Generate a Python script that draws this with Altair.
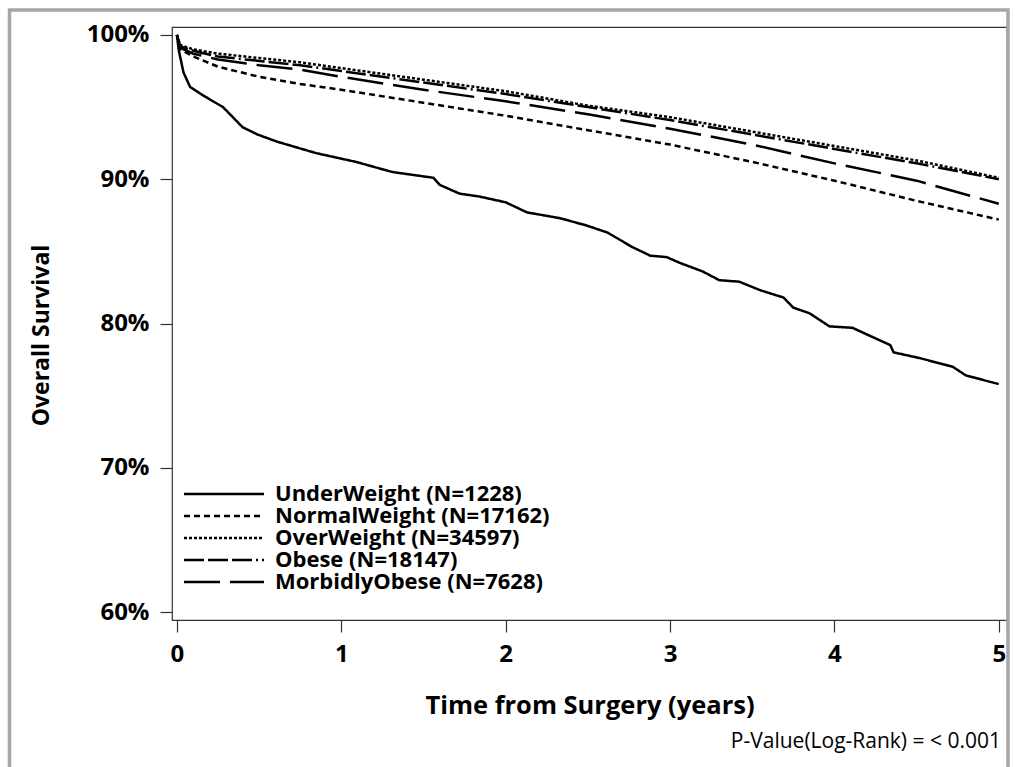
import altair as alt
import pandas as pd

groups = [
    "UnderWeight (N=1228)",
    "NormalWeight (N=17162)",
    "OverWeight (N=34597)",
    "Obese (N=18147)",
    "MorbidlyObese (N=7628)",
]
dash_styles = [[1, 0], [6, 4], [3, 2], [20, 4, 20, 4, 20, 4, 2, 4], [36, 10]]

under_t = [0, 0.01, 0.04, 0.08, 0.16, 0.22, 0.28, 0.34, 0.40, 0.49, 0.61, 0.73,
           0.85, 0.97, 1.09, 1.31, 1.56, 1.60, 1.72, 1.84, 2.0, 2.13, 2.33, 2.49,
           2.62, 2.77, 2.88, 2.98, 3.06, 3.2, 3.30, 3.42, 3.55, 3.69, 3.75, 3.85,
           3.97, 4.11, 4.34, 4.36, 4.52, 4.72, 4.80, 5.0]
under_s = [100, 99.0, 97.4, 96.4, 95.8, 95.4, 95.0, 94.3, 93.6, 93.1, 92.6, 92.2,
           91.8, 91.5, 91.2, 90.5, 90.1, 89.6, 89.0, 88.8, 88.4, 87.7, 87.3, 86.8,
           86.3, 85.3, 84.7, 84.6, 84.2, 83.6, 83.0, 82.9, 82.3, 81.8, 81.1, 80.7,
           79.8, 79.7, 78.5, 78.0, 77.6, 77.0, 76.4, 75.8]

other_t = [0, 0.02, 0.1, 0.25, 0.5, 0.75, 1, 1.5, 2, 2.5, 3, 3.5, 4, 4.5, 5]
normal_s = [100, 99.0, 98.5, 97.8, 97.1, 96.6, 96.2, 95.3, 94.4, 93.4, 92.4, 91.2, 89.9, 88.5, 87.2]
over_s = [100, 99.3, 99.0, 98.7, 98.4, 98.1, 97.7, 96.9, 96.1, 95.1, 94.3, 93.3, 92.3, 91.3, 90.1]
obese_s = [100, 99.2, 98.9, 98.5, 98.2, 97.9, 97.5, 96.7, 95.9, 95.0, 94.1, 93.1, 92.1, 91.1, 90.0]
morbid_s = [100, 99.1, 98.7, 98.3, 97.9, 97.6, 97.1, 96.2, 95.4, 94.5, 93.5, 92.4, 91.1, 89.9, 88.3]

x_ticks = [0, 1, 2, 3, 4, 5]
y_ticks = [0.6, 0.7, 0.8, 0.9, 1.0]
pvalue_text = "P-Value(Log-Rank) = < 0.001"

series = [
    (groups[0], under_t, under_s),
    (groups[1], other_t, normal_s),
    (groups[2], other_t, over_s),
    (groups[3], other_t, obese_s),
    (groups[4], other_t, morbid_s),
]
rows = []
for g, ts, ss in series:
    for t, s in zip(ts, ss):
        rows.append({"group": g, "t": t, "s": s / 100.0})
df = pd.DataFrame(rows)

FONT = "Open Sans"

lines = alt.Chart(df).mark_line(strokeWidth=2.5, color="black").encode(
    x=alt.X(
        "t:Q",
        scale=alt.Scale(domain=[-0.03, 5.05], nice=False, zero=False),
        axis=alt.Axis(
            values=x_ticks, format="d", tickSize=12, labelPadding=10,
            labelFlush=False, grid=False, domain=False, tickColor="#333",
            tickWidth=1.2,
            labelFont=FONT, labelFontSize=24, labelFontWeight="bold", labelColor="black",
            title="Time from Surgery (years)", titleFont=FONT, titleFontSize=25.5,
            titleFontWeight="bold", titleColor="black", titleBaseline="alphabetic",
            titleY=93,
        ),
    ),
    y=alt.Y(
        "s:Q",
        scale=alt.Scale(domain=[0.5945, 1.0055], nice=False, zero=False),
        axis=alt.Axis(
            values=y_ticks, format=".0%", tickSize=12, labelPadding=11,
            labelFlush=False, grid=False, domain=False, tickColor="#333",
            tickWidth=1.2,
            labelFont=FONT, labelFontSize=24, labelFontWeight="bold", labelColor="black",
            title="Overall Survival", titleFont=FONT, titleFontSize=23,
            titleFontWeight="bold", titleColor="black", titleBaseline="alphabetic",
            titleX=-124, titleY=308,
        ),
    ),
    strokeDash=alt.StrokeDash(
        "group:N",
        scale=alt.Scale(domain=groups, range=dash_styles),
        legend=alt.Legend(
            title=None, orient="none", legendX=41, legendY=456,
            symbolType="M-8,0H8", symbolSize=100, symbolStrokeWidth=2.5,
            symbolStrokeColor="black",
            labelFont=FONT, labelFontSize=22, labelFontWeight="bold", labelColor="black",
            labelOffset=40, rowPadding=-1, padding=0, labelLimit=0,
        ),
    ),
)

frame = alt.Chart(pd.DataFrame({"a": [0]})).mark_rect(
    fillOpacity=0, stroke="#a6a6a6", strokeWidth=3.5
).encode(
    x=alt.value(-162.5), x2=alt.value(836), y=alt.value(-17), y2=alt.value(800)
)

ptext = alt.Chart(pd.DataFrame({"label": [pvalue_text]})).mark_text(
    align="right", baseline="alphabetic", fontSize=21, font=FONT, color="black"
).encode(x=alt.value(829), y=alt.value(721), text="label:N")

chart = alt.layer(frame, lines, ptext).properties(
    width=835, height=593,
    padding={"left": 172, "top": 27, "right": 8, "bottom": 147},
    autosize=alt.AutoSizeParams(type="none"),
    background="white",
).configure_view(stroke="#333", strokeWidth=1.2)

chart.save("out.html", embed_options={"renderer": "svg", "actions": False})
